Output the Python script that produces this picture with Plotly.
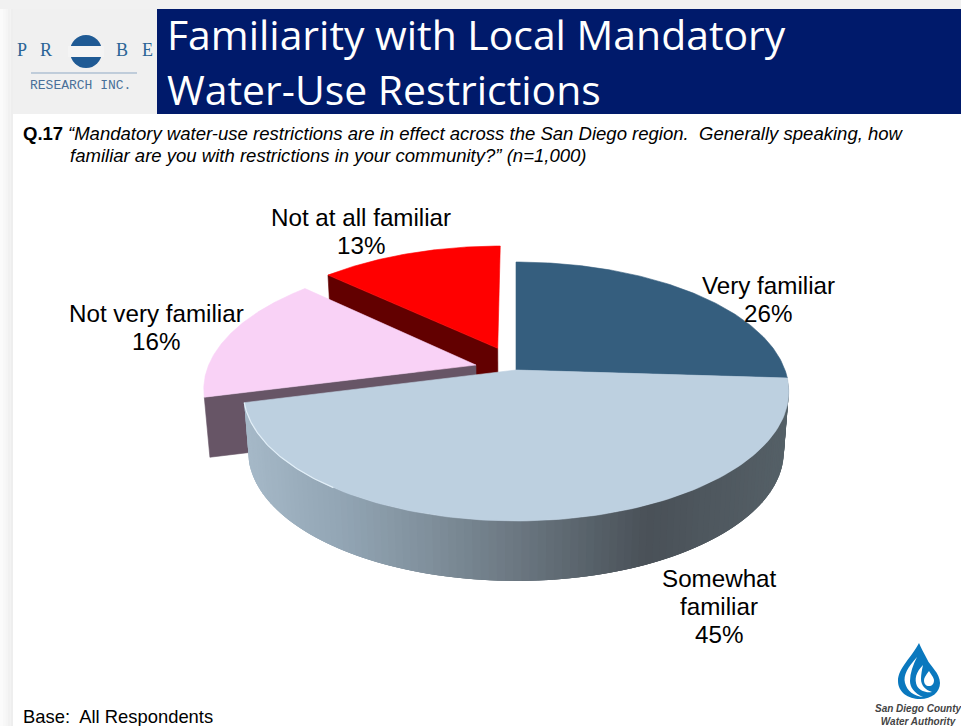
import numpy as np
import plotly.graph_objects as go

# ---- data ----
categories = ["Very familiar", "Somewhat familiar", "Not very familiar", "Not at all familiar"]
values = [26, 45, 16, 13]
slice_colors = ["#355E7E", "#BDD0E0", "#F9D2F6", "#FF0000"]
pulls = [(0.0, 0.0), (0.0, 0.0), (-0.15, 0.04), (-0.07, 0.177)]
label_lines = [["Very familiar", "26%"], ["Somewhat", "familiar", "45%"],
               ["Not very familiar", "16%"], ["Not at all familiar", "13%"]]
label_pos = [(768, 285), (719, 578), (156, 313), (361, 217)]

title_lines = ["Familiarity with Local Mandatory", "Water-Use Restrictions"]
question_lines = ["“Mandatory water-use restrictions are in effect across the San Diego region.  Generally speaking, how",
                  "familiar are you with restrictions in your community?” (n=1,000)"]

# projection of the tilted pie onto the page
CX, CY, RX, RY, K, DEPTH, SHRINK = 516, 370, 269, 125.9, 0.166, 60, 0.982


def project(u, v, bottom=False):
    w = 1 + K * v
    x = RX * u / w
    y = -RY * v / w
    if bottom:
        return CX + x * SHRINK, CY + y + DEPTH
    return CX + x, CY + y


total = sum(values)
edges = np.cumsum([0] + values) / total


def arc(i, f0=None, f1=None, n=120):
    f0 = edges[i] if f0 is None else f0
    f1 = edges[i + 1] if f1 is None else f1
    t = np.linspace(f0, f1, n) * 2 * np.pi
    return np.sin(t) + pulls[i][0], np.cos(t) + pulls[i][1]


fig = go.Figure()


def poly(x, y, color, width=0.6):
    fig.add_trace(go.Scatter(x=list(x), y=list(y), mode="lines", fill="toself", fillcolor=color,
                             line=dict(color=color, width=width), hoverinfo="skip", showlegend=False))


def top_face(i):
    u, v = arc(i)
    ax, ay = project(pulls[i][0], pulls[i][1])
    x, y = project(u, v)
    poly(np.r_[ax, x, ax], np.r_[ay, y, ay], slice_colors[i])


def cut_wall(i, frac, color):
    t = frac * 2 * np.pi
    u0, v0 = pulls[i]
    u1, v1 = np.sin(t) + u0, np.cos(t) + v0
    a = project(u0, v0)
    b = project(u1, v1)
    c = project(u1, v1, True)
    d = project(u0, v0, True)
    poly([a[0], b[0], c[0], d[0], a[0]], [a[1], b[1], c[1], d[1], a[1]], color)


def shade(xp):
    stops_x = [245, 340, 430, 520, 600, 650, 785]
    stops = np.array([[0xA6, 0xB9, 0xC8], [0x93, 0xA6, 0xB5], [0x80, 0x90, 0x9C], [0x6B, 0x77, 0x81],
                      [0x56, 0x60, 0x68], [0x4A, 0x51, 0x58], [0x55, 0x60, 0x67]], dtype=float)
    rgb = [np.interp(xp, stops_x, stops[:, k]) for k in range(3)]
    return "rgb(%d,%d,%d)" % tuple(int(c) for c in rgb)


# back slices first
cut_wall(3, edges[3], "#620000")
top_face(3)
cut_wall(2, edges[2], "#675566")
top_face(2)
top_face(0)

# front wall of the large slice, as narrow overlapping shaded strips
STRIPS = 110
lim = np.linspace(edges[1], edges[2], STRIPS + 1)
overlap = 2 * (lim[1] - lim[0])
for a, b in zip(lim[:-1], lim[1:]):
    u, v = arc(1, a, min(b + overlap, edges[2]), 6)
    xt, yt = project(u, v)
    xb, yb = project(u, v, True)
    poly(np.r_[xt, xb[::-1], xt[0]], np.r_[yt, yb[::-1], yt[0]], shade(xt[:2].mean()), width=0)
top_face(1)

# pale rim on the lower left edge of the big slice
u, v = arc(1, 0.60, edges[2], 60)
rx, ry = project(u, v)
fig.add_trace(go.Scatter(x=rx, y=ry, mode="lines", line=dict(color="#E2EFF8", width=1.2),
                         hoverinfo="skip", showlegend=False))

shapes = []
# page frame
for x0, c in zip(np.arange(0, 13, 2.6), ["#FBFBFB", "#F8F8F8", "#F5F5F5", "#F1F1F1", "#EEEEEE"]):
    shapes.append(dict(type="rect", x0=x0, x1=x0 + 2.6, y0=0, y1=726, fillcolor=c, line_width=0, layer="below"))
shapes.append(dict(type="rect", x0=0, x1=961, y0=0, y1=9, fillcolor="#F1F1F1", line_width=0, layer="below"))
shapes.append(dict(type="rect", x0=13, x1=157, y0=9, y1=114, fillcolor="#F0F0F0", line_width=0, layer="below"))
shapes.append(dict(type="rect", x0=157, x1=961, y0=9, y1=114, fillcolor="#001A6B", line_width=0, layer="below"))
# logo disc
shapes.append(dict(type="circle", x0=70, x1=102, y0=35, y1=68, fillcolor="#1F5A94", line_width=0, layer="below"))
shapes.append(dict(type="rect", x0=68, x1=104, y0=46, y1=57, fillcolor="#F4F4F4", line_width=0, layer="below"))
shapes.append(dict(type="line", x0=31, x1=137, y0=73, y1=73, line=dict(color="#8FA9C4", width=1), layer="below"))
# water drop mark
shapes.append(dict(type="path", fillcolor="#0A78BE", line_width=0, layer="below",
                   path="M 919 643 C 912 657 898 668 898 681 C 898 692 908 699 920 699 "
                   "C 932 699 940 692 940 683 C 940 673 930 666 927 659 C 924 653 921 648 919 643 Z"))
shapes.append(dict(type="path", fillcolor="#FFFFFF", line_width=0, layer="below",
                   path="M 917 657 C 908 667 903 675 905 683 C 907 691 914 696 923 697 "
                   "C 914 693 910 687 910 681 C 910 673 913 665 917 657 Z"))
shapes.append(dict(type="path", fillcolor="#FFFFFF", line_width=0, layer="below",
                   path="M 923 665 C 916 672 914 679 917 686 C 920 691 926 693 932 692 "
                   "C 925 690 921 685 921 679 C 921 674 922 670 923 665 Z"))
shapes.append(dict(type="path", fillcolor="#FFFFFF", line_width=0, layer="below",
                   path="M 929 671 C 926 675 924 678 924 680 C 924 684 926 686 929 686 "
                   "C 932 686 934 684 934 680 C 934 678 931 674 929 671 Z"))

ann = []


def text(x, y, s, size, color="#000000", family="Liberation Sans", anchor="left", **font_extra):
    ann.append(dict(x=x, y=y, text=s, showarrow=False, xref="x", yref="y", xanchor=anchor, yanchor="middle",
                    font=dict(family=family, size=size, color=color, **font_extra)))


for lines, (lx, ly) in zip(label_lines, label_pos):
    for j, line in enumerate(lines):
        text(lx, ly + 28 * j, line, 24.2, anchor="center")

text(165, 34, title_lines[0], 40.9, "#FFFFFF", "Open Sans")
text(165, 89, title_lines[1], 40.9, "#FFFFFF", "Open Sans")
text(21, 133, "<b>Q.17</b>", 15.5 * 834 / 697)
text(66, 133, "<i>" + question_lines[0] + "</i>", 15.5 * 834 / 697)
text(68, 155, "<i>" + question_lines[1] + "</i>", 15.5 * 834 / 697)
text(21, 716, "Base:  All Respondents", 18.4)
ann.append(dict(x=918, y=714.5, text="<b><i>San Diego County<br>Water Authority</i></b>", showarrow=False,
                xref="x", yref="y", xanchor="center", yanchor="middle", align="center",
                font=dict(family="Liberation Sans", size=10, color="#444444")))
for x, s in [(15, "P"), (38, "R"), (114, "B"), (140, "E")]:
    text(x, 50, s, 18, "#2A6496", "Liberation Serif")
text(28, 85, "RESEARCH INC.", 13, "#4A7099", "Liberation Mono")

fig.update_layout(width=961, height=726, margin=dict(l=0, r=0, t=0, b=0), paper_bgcolor="white",
                  plot_bgcolor="white", showlegend=False, shapes=shapes, annotations=ann,
                  xaxis=dict(range=[0, 961], visible=False, fixedrange=True),
                  yaxis=dict(range=[726, 0], visible=False, fixedrange=True))
fig.write_html("out.html", post_script="document.body.style.margin='0';document.body.style.overflow='hidden';",
               config=dict(displayModeBar=False))
